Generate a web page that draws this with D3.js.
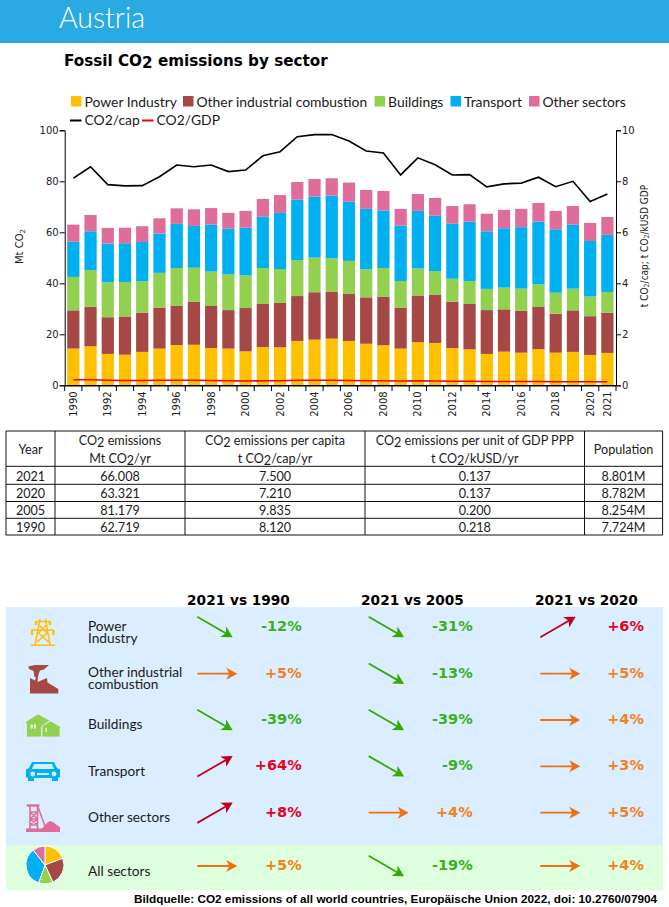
<!DOCTYPE html>
<html>
<head>
<meta charset="utf-8">
<title>Austria</title>
<script src="https://cdn.jsdelivr.net/npm/d3@7"></script>
<style>
    body { margin: 0; background: #fff; }
    svg { display: block; }
    text { fill: #1a1a1a; }
</style>
</head>
<body>
<div id="chart-area"></div>
<script>
// Data
var years = d3.range(1990, 2022);
var power = [14.4,15.3,12.3,12.0,13.1,14.4,15.8,15.9,14.6,14.4,13.3,15.0,14.9,17.4,17.9,18.3,17.4,16.3,15.7,14.4,16.9,16.6,14.6,14.1,12.3,13.2,12.8,14.2,12.8,13.1,11.9,12.7];
var industry = [15.0,15.5,14.4,15.0,15.4,16.1,15.3,16.8,16.5,15.1,17.0,16.9,17.4,17.6,18.6,18.3,18.4,18.2,19.1,16.1,18.3,19.0,18.2,17.8,17.2,16.6,16.4,16.5,15.3,16.3,15.2,15.8];
var buildings = [13.1,14.4,13.7,13.5,12.3,13.6,14.9,13.4,13.5,14.0,12.8,14.1,13.3,14.1,13.6,13.2,13.0,11.0,11.2,10.4,10.6,9.2,9.0,9.0,8.3,8.5,8.7,8.9,8.2,8.5,7.7,8.1];
var transport = [13.8,15.2,15.2,15.2,15.4,15.4,17.3,16.4,18.4,17.9,18.7,20.1,22.0,23.7,23.9,24.6,23.2,23.7,22.6,21.7,22.6,21.7,21.6,23.3,22.6,23.3,24.1,24.6,24.9,25.1,21.8,22.4];
var otherSectors = [6.7,6.4,6.1,6.1,6.2,6.0,6.1,6.5,6.5,6.2,6.6,7.0,7.0,6.9,6.9,6.8,7.5,7.4,7.6,6.6,6.6,7.0,6.9,6.8,6.9,7.2,7.2,7.3,7.2,7.3,7.1,7.0];
var co2cap = [8.12,8.57,7.87,7.82,7.83,8.18,8.64,8.57,8.64,8.38,8.44,9.0,9.16,9.75,9.83,9.835,9.58,9.19,9.11,8.25,8.92,8.65,8.25,8.26,7.78,7.9,7.93,8.16,7.79,8.0,7.21,7.5];
var co2gdp = [0.218,0.22,0.2,0.19,0.19,0.2,0.2,0.2,0.19,0.18,0.17,0.18,0.18,0.2,0.2,0.2,0.19,0.18,0.18,0.17,0.18,0.17,0.16,0.16,0.15,0.15,0.15,0.15,0.14,0.14,0.137,0.137];

var sectorNames = ["Power Industry", "Other industrial combustion", "Buildings", "Transport", "Other sectors"];
var sectorColors = ["#ffc000", "#a64946", "#92d050", "#00b0f0", "#df6d9c"];
var yearTicks = [1990,1992,1994,1996,1998,2000,2002,2004,2006,2008,2010,2012,2014,2016,2018,2020,2021];

// Table
var tableYears = ["2021", "2020", "2005", "1990"];
var tableEmissions = ["66.008", "63.321", "81.179", "62.719"];
var tablePerCapita = ["7.500", "7.210", "9.835", "8.120"];
var tablePerGdp = ["0.137", "0.137", "0.200", "0.218"];
var tablePopulation = ["8.801M", "8.782M", "8.254M", "7.724M"];

// Change panel
var changeLabels = [["Power", "Industry"], ["Other industrial", "combustion"], ["Buildings"], ["Transport"], ["Other sectors"], ["All sectors"]];
var changeHeaders = ["2021 vs 1990", "2021 vs 2005", "2021 vs 2020"];
var vs1990 = [-12, 5, -39, 64, 8, 5];
var vs2005 = [-31, -13, -39, -9, 4, -19];
var vs2020 = [6, 5, 4, 3, 5, 4];

var labelFont = "Lato";
var tickFont = "DejaVu Sans";

var svg = d3.select("#chart-area")
    .append("svg")
    .attr("width", 669)
    .attr("height", 907);

// Writes a string with the 2 of CO2 dropped down a bit
function co2Text(sel, str, dropPx, subSize) {
    var parts = str.split("CO2");
    var backUp = 0;
    parts.forEach(function (p, i) {
        var isLast = i == parts.length - 1;
        var head = p + (isLast ? "" : "CO");
        if (head) sel.append("tspan").attr("dy", backUp).text(head);
        backUp = 0;
        if (!isLast) {
            var sub = sel.append("tspan").attr("dy", dropPx).text("2");
            if (subSize) sub.attr("font-size", subSize);
            backUp = -dropPx;
        }
    });
}

// Header band
svg.append("rect").attr("width", 669).attr("height", 43).attr("fill", "#29aae3");
svg.append("text")
    .attr("x", 59).attr("y", 28)
    .attr("font-family", "Lato").attr("font-weight", 300).attr("font-size", 28.5)
    .style("fill", "#fff")
    .text("Austria");

svg.append("text")
    .attr("x", 64).attr("y", 66)
    .attr("font-family", tickFont).attr("font-weight", "bold").attr("font-size", 15.2)
    .style("fill", "#000")
    .call(co2Text, "Fossil CO2 emissions by sector", 2);

// SCALES
var x = d3.scaleBand()
    .domain(years)
    .range([64.7, 616])
    .paddingInner(0.29)
    .paddingOuter(0.145);

var y = d3.scaleLinear().domain([0, 100]).range([385.3, 130.3]);
var yRight = d3.scaleLinear().domain([0, 10]).range([385.3, 130.3]);

// Stack the sectors
var rows = years.map(function (yr, i) {
    return { year: yr, s0: power[i], s1: industry[i], s2: buildings[i], s3: transport[i], s4: otherSectors[i] };
});
var series = d3.stack().keys(["s0", "s1", "s2", "s3", "s4"])(rows);

svg.append("g").selectAll("g")
    .data(series)
    .enter()
    .append("g")
    .attr("fill", function (d, i) { return sectorColors[i]; })
    .selectAll("rect")
    .data(function (d) { return d; })
    .enter()
    .append("rect")
    .attr("x", function (d) { return x(d.data.year); })
    .attr("y", function (d) { return y(d[1]); })
    .attr("width", x.bandwidth())
    .attr("height", function (d) { return y(d[0]) - y(d[1]); });

// Lines
var lineGen = d3.line()
    .x(function (d, i) { return x(years[i]) + x.bandwidth() / 2; })
    .y(function (d) { return yRight(d); });

svg.append("path").datum(co2cap)
    .attr("fill", "none").attr("stroke", "#000").attr("stroke-width", 1.6)
    .attr("d", lineGen);
svg.append("path").datum(co2gdp)
    .attr("fill", "none").attr("stroke", "#e8000b").attr("stroke-width", 1.6)
    .attr("d", lineGen);

// Axes
var leftAxis = svg.append("g")
    .attr("transform", "translate(64.7,0)")
    .call(d3.axisLeft(y).tickValues([0, 20, 40, 60, 80, 100]).tickSizeOuter(0).tickSize(5));
var rightAxis = svg.append("g")
    .attr("transform", "translate(616,0)")
    .call(d3.axisRight(yRight).tickValues([0, 2, 4, 6, 8, 10]).tickSizeOuter(0).tickSize(5));
[leftAxis, rightAxis].forEach(function (g) {
    g.selectAll("text").attr("font-family", tickFont).attr("font-size", 10).style("fill", "#222");
});
leftAxis.selectAll("text").attr("x", -6);
rightAxis.selectAll("text").attr("x", 6);

var bottomAxis = svg.append("g")
    .attr("transform", "translate(0,385.3)")
    .call(d3.axisBottom(x).tickValues(yearTicks).tickSize(0).tickSizeOuter(0));
bottomAxis.select(".domain").attr("stroke-width", 1.6);
bottomAxis.selectAll("text")
    .attr("font-family", tickFont).attr("font-size", 10).style("fill", "#222")
    .attr("transform", "rotate(-90)")
    .attr("text-anchor", "end")
    .attr("x", -6)
    .attr("y", 0)
    .attr("dy", "0.35em");

// Ticks sit on the band edges
var edges = years.map(function (yr) { return x(yr) - x.step() * x.paddingInner() / 2; }).concat([616]);
svg.append("g").selectAll("line")
    .data(edges)
    .enter()
    .append("line")
    .attr("x1", function (d) { return d; })
    .attr("x2", function (d) { return d; })
    .attr("y1", 385.3)
    .attr("y2", 391)
    .attr("stroke", "#000");

svg.append("text")
    .attr("transform", "translate(23,246.5) rotate(-90)")
    .attr("text-anchor", "middle")
    .attr("font-family", tickFont).attr("font-size", 10)
    .call(co2Text, "Mt CO2", 1.5, 7);
svg.append("text")
    .attr("transform", "translate(647.5,246) rotate(-90)")
    .attr("text-anchor", "middle")
    .attr("font-family", "DejaVu Sans Condensed").attr("font-size", 10)
    .call(co2Text, "t CO2/cap; t CO2/kUSD GDP", 1.5, 7);

// Legend
var legendX = [71, 183, 374.6, 450.5, 529];
var legend = svg.append("g").attr("font-family", labelFont).attr("font-size", 13.9);
sectorNames.forEach(function (name, i) {
    legend.append("rect")
        .attr("x", legendX[i]).attr("y", 96).attr("width", 10.5).attr("height", 10.5)
        .attr("fill", sectorColors[i]);
    legend.append("text")
        .attr("x", legendX[i] + 13.5).attr("y", 107)
        .text(name);
});
[["CO2/cap", "#000", 70], ["CO2/GDP", "#e8000b", 142]].forEach(function (d) {
    legend.append("line")
        .attr("x1", d[2]).attr("x2", d[2] + 11.5)
        .attr("y1", 120.5).attr("y2", 120.5)
        .attr("stroke", d[1]).attr("stroke-width", 2);
    legend.append("text").attr("x", d[2] + 14.5).attr("y", 125).text(d[0]);
});

// Table
var colEdges = [6, 55, 185, 365, 584.5, 662.6];
var rowEdges = [431, 466.3, 484.3, 501.5, 518.3, 535];
var rowText = [481, 497.5, 514.5, 532];
var table = svg.append("g");
colEdges.forEach(function (cx) {
    table.append("line").attr("x1", cx).attr("x2", cx).attr("y1", 431).attr("y2", 535)
        .attr("stroke", "#111").attr("stroke-width", 1);
});
rowEdges.forEach(function (ry) {
    table.append("line").attr("x1", 6).attr("x2", 662.6).attr("y1", ry).attr("y2", ry)
        .attr("stroke", "#111").attr("stroke-width", 1);
});
var cols = [tableYears, tableEmissions, tablePerCapita, tablePerGdp, tablePopulation];
var tableText = table.append("g").attr("font-family", labelFont).attr("font-size", 12.6).attr("text-anchor", "middle");
cols.forEach(function (col, c) {
    var cx = (colEdges[c] + colEdges[c + 1]) / 2;
    col.forEach(function (val, r) {
        tableText.append("text").attr("x", cx).attr("y", rowText[r]).text(val);
    });
});
var tableHead = [
    [["Year"], 0],
    [["CO2 emissions", "Mt CO2/yr"], 1],
    [["CO2 emissions per capita", "t CO2/cap/yr"], 2],
    [["CO2 emissions per unit of GDP PPP", "t CO2/kUSD/yr"], 3],
    [["Population"], 4]
];
tableHead.forEach(function (h) {
    var cx = (colEdges[h[1]] + colEdges[h[1] + 1]) / 2;
    h[0].forEach(function (line, i) {
        var ty = h[0].length == 1 ? 454 : 444.5 + i * 18.5;
        tableText.append("text").attr("x", cx).attr("y", ty).call(co2Text, line, 2);
    });
});

// Change panel
svg.append("rect").attr("x", 6).attr("y", 607).attr("width", 657).attr("height", 238).attr("fill", "#dbeeff");
svg.append("rect").attr("x", 6).attr("y", 845).attr("width", 657).attr("height", 45).attr("fill", "#ddffdd");

var arrowX = [197.3, 368.7, 540.3];
var pctX = [301.7, 472.7, 644];
var headX = [238.5, 412.5, 586.5];
var rowY = [627, 673.7, 720, 766.3, 812.7, 866];

changeHeaders.forEach(function (h, i) {
    svg.append("text")
        .attr("x", headX[i]).attr("y", 604.5)
        .attr("text-anchor", "middle")
        .attr("font-family", tickFont).attr("font-weight", "bold").attr("font-size", 13.7)
        .style("fill", "#000")
        .text(h);
});

function trendOf(v) {
    if (v > 5) return { dx: 35.4, dy: -20.4, line: "#c00018", text: "#e8001c" };
    if (v < 0) return { dx: 35.4, dy: 20.4, line: "#33aa00", text: "#3cb01c" };
    return { dx: 40, dy: 0, line: "#f07010", text: "#f58020" };
}

[vs1990, vs2005, vs2020].forEach(function (vals, c) {
    vals.forEach(function (v, r) {
        var t = trendOf(v);
        var x0 = arrowX[c];
        var y0 = rowY[r] - t.dy / 2;
        var g = svg.append("g").attr("transform", "translate(" + x0 + "," + y0 + ") rotate(" + (Math.atan2(t.dy, t.dx) * 180 / Math.PI) + ")");
        var len = Math.sqrt(t.dx * t.dx + t.dy * t.dy);
        g.append("line").attr("x2", len - 6).attr("stroke", t.line).attr("stroke-width", 1.8);
        g.append("path")
            .attr("d", "M" + len + ",0L" + (len - 11) + ",-6L" + (len - 8) + ",0L" + (len - 11) + ",6Z")
            .attr("fill", t.line);
        svg.append("text")
            .attr("x", pctX[c]).attr("y", rowY[r] + 4)
            .attr("text-anchor", "end")
            .attr("font-family", tickFont).attr("font-weight", "bold").attr("font-size", 14.5)
            .style("fill", t.text)
            .text((v > 0 ? "+" : "-") + Math.abs(v) + "%");
    });
});

var rowLabelY = [631, 677, 729, 776, 822, 876];
changeLabels.forEach(function (lines, r) {
    var t = svg.append("text")
        .attr("x", 88).attr("y", rowLabelY[r])
        .attr("font-family", labelFont).attr("font-size", 13.7);
    lines.forEach(function (line, i) {
        t.append("tspan").attr("x", 88).attr("dy", i == 0 ? 0 : 12).text(line);
    });
});

// Icons
var panelBlue = "#dbeeff";

var tower = svg.append("g").attr("stroke", sectorColors[0]).attr("fill", "none").attr("stroke-width", 1.5);
tower.append("path").attr("d", "M40,619L35,645M45.5,619L50,645M30.5,645.3H55M36,621.5H50M31.5,630H54M39,625L47,633L37,642M46.5,625L38.5,633L48.5,642");
tower.append("path").attr("stroke-width", 2.4).attr("d", "M36,621V625M50,621V625M32,630V635M53.5,630V635");

svg.append("path").attr("fill", sectorColors[1])
    .attr("d", "M28.3,666.5L35,665H49L44,669.5L40,670.5L39,673L38,677H34.5L33.5,671L29,669ZM30,678L35,680.5L36,677H38L37.5,682L47,678L47.5,682.5L58.3,689V693.5H30Z");

svg.append("path").attr("fill", sectorColors[2]).attr("stroke", panelBlue).attr("stroke-width", 0.8)
    .attr("d", "M25,722L38,714L50,720.5L41.5,727V737H26.5V723Z");
svg.append("path").attr("fill", sectorColors[2]).attr("stroke", panelBlue).attr("stroke-width", 0.8)
    .attr("d", "M42,726L50.7,721L61,727L60,728V737H42Z");
svg.append("path").attr("fill", "#fff").attr("d", "M30.7,724.5h2v4h-2ZM34,724.5h2v4h-2ZM45.5,728h1.2v4h-1.2Z");

svg.append("path").attr("fill", sectorColors[3])
    .attr("d", "M32,762H54L57,768L60,769.5V777L58,778V781H52V778H34V781H28V778L26,777V769.5L29,768Z");
svg.append("path").attr("fill", panelBlue)
    .attr("d", "M34,764H52L54,769H32Z");
svg.append("circle").attr("cx", 32.7).attr("cy", 774).attr("r", 2.4).attr("fill", panelBlue);
svg.append("circle").attr("cx", 54).attr("cy", 774).attr("r", 2.4).attr("fill", panelBlue);
svg.append("path").attr("fill", panelBlue).attr("d", "M37,773H49V775H37Z");

var mine = svg.append("g").attr("fill", "none").attr("stroke", sectorColors[4]).attr("stroke-width", 1.6);
mine.append("path").attr("d", "M30,806L30,829M37.5,806L37.5,829M30,812H37.5M30,819H37.5M30,825H37.5M30,812L37.5,819M37.5,812L30,819M30,819L37.5,825M37.5,819L30,825M38,807L46,829");
mine.append("path").attr("stroke-width", 2.4).attr("d", "M26.7,805.5H39.5");
svg.append("path").attr("fill", sectorColors[4])
    .attr("d", "M26,832V828.5H42L47,823L50,821L53,822L56,824.5L60,827V832Z");

// Small pie, same sector order as the bars
var pieValues = [power[31], industry[31], buildings[31], transport[31], otherSectors[31]];
var pie = d3.pie().sort(null)(pieValues);
var arc = d3.arc().innerRadius(0).outerRadius(19);
svg.append("g")
    .attr("transform", "translate(45,865)")
    .selectAll("path")
    .data(pie)
    .enter()
    .append("path")
    .attr("d", arc)
    .attr("fill", function (d, i) { return sectorColors[i]; })
    .attr("stroke", "#fff")
    .attr("stroke-width", 1);

// Source line
svg.append("text")
    .attr("x", 134).attr("y", 903)
    .attr("font-family", "Liberation Sans").attr("font-weight", "bold").attr("font-size", 11.78)
    .style("fill", "#000")
    .text("Bildquelle: CO2 emissions of all world countries, Europ\u00e4ische Union 2022, doi: 10.2760/07904");
</script>
</body>
</html>
